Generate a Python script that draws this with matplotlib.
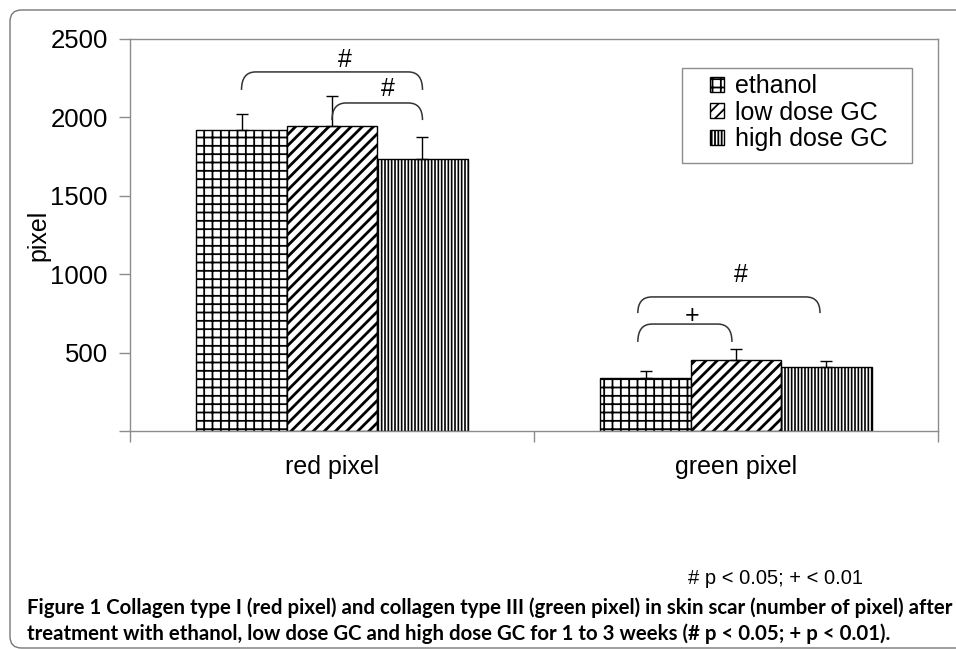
import numpy as np
import matplotlib
matplotlib.use("Agg")
import matplotlib.pyplot as plt
from matplotlib.path import Path
from matplotlib.patches import PathPatch, FancyBboxPatch, Rectangle

categories = ["red pixel", "green pixel"]
groups = ["ethanol", "low dose GC", "high dose GC"]
means = {
    "ethanol": [1920, 338],
    "low dose GC": [1945, 453],
    "high dose GC": [1735, 408],
}
errors = {
    "ethanol": [102, 45],
    "low dose GC": [192, 70],
    "high dose GC": [140, 38],
}
hatches = {"ethanol": "++", "low dose GC": "///", "high dose GC": "|||||"}
hatch_lw = {"ethanol": 1.3, "low dose GC": 2.0, "high dose GC": 1.2}

# significance brackets: x0, x1, y_end, y_top, label, label_x, label_y
brackets = [
    (0.276, 0.724, 2175, 2290, "#", 0.532, 2366),
    (0.500, 0.724, 1983, 2092, "#", 0.639, 2181),
    (1.257, 1.708, 752, 855, "#", 1.512, 995),
    (1.257, 1.490, 568, 682, "+", 1.391, 733),
]

plt.rcParams["font.family"] = ["Liberation Sans", "DejaVu Sans"]
plt.rcParams["hatch.linewidth"] = 1.3

fig = plt.figure(figsize=(9.56, 6.49), dpi=100)
ax = fig.add_axes([130 / 956, 1 - 431 / 649, 808 / 956, 392 / 649])

grey = "#8c8c8c"
width = 0.224
x = np.arange(len(categories)) + 0.5
for i, g in enumerate(groups):
    pos = x + (i - 1) * width
    with plt.rc_context({"hatch.linewidth": hatch_lw[g]}):
        ax.bar(pos, means[g], width, facecolor="white", edgecolor="black",
               linewidth=1.0, hatch=hatches[g], label=g, zorder=2)
    ax.errorbar(pos, means[g], yerr=[[0] * len(pos), errors[g]], fmt="none",
                ecolor="black", elinewidth=1.0, capsize=4, capthick=1.0, zorder=3)

for x0, x1, ye, yt, lab, lx, ly in brackets:
    rx = 0.035
    verts = [(x0, ye), (x0, yt), (x0 + rx, yt), (x1 - rx, yt), (x1, yt), (x1, ye)]
    codes = [Path.MOVETO, Path.CURVE3, Path.CURVE3, Path.LINETO, Path.CURVE3, Path.CURVE3]
    ax.add_patch(PathPatch(Path(verts, codes), facecolor="none", edgecolor="#333333",
                           linewidth=1.1, zorder=3))
    ax.text(lx, ly, lab, ha="center", va="center", fontsize=18)

ax.set_xlim(0, 2)
ax.set_ylim(0, 2500)
ax.set_yticks([0, 500, 1000, 1500, 2000, 2500])
ax.set_yticklabels(["", "500", "1000", "1500", "2000", "2500"])
ax.set_xticks([0, 1, 2])
ax.set_xticklabels([])
ax.set_xticks(x, minor=True)
ax.set_xticklabels(categories, minor=True)
ax.tick_params(axis="x", which="minor", length=0, pad=17, labelsize=18)
ax.tick_params(axis="x", which="major", length=8, color=grey, width=1)
ax.tick_params(axis="y", length=8, color=grey, width=1, labelsize=18.5, pad=8)
for s in ax.spines.values():
    s.set_color(grey)
    s.set_linewidth(1.0)
ax.set_ylabel("pixel", fontsize=18, labelpad=0)

# legend box drawn separately so the padding can match
ax.add_patch(Rectangle((0.683, 0.684), 0.2847, 0.2423, transform=ax.transAxes,
                       facecolor="white", edgecolor=grey, linewidth=1.0, zorder=4))
leg = ax.legend(loc="upper left", bbox_to_anchor=(0.718, 0.910), borderaxespad=0,
                fontsize=18, frameon=False, borderpad=0,
                handlelength=0.55, handleheight=0.55, handletextpad=0.45,
                labelspacing=0.1)
leg.set_zorder(5)

fig.text(775 / 956, 1 - 578 / 649, "# p < 0.05; + < 0.01", ha="center", va="center",
         fontsize=14.5)

cap1 = ("Figure 1 Collagen type I (red pixel) and collagen type III (green pixel) in "
        "skin scar (number of pixel) after")
cap2 = ("treatment with ethanol, low dose GC and high dose GC for 1 to 3 weeks "
        "(# p < 0.05; + p < 0.01).")
capfont = ["Lato", "DejaVu Sans"]
fs = 13
t1 = fig.text(27 / 956, 1 - 608 / 649, cap1, ha="left", va="center", fontsize=fs,
              fontweight="bold", family=capfont)
t2 = fig.text(27 / 956, 1 - 634 / 649, cap2, ha="left", va="center", fontsize=fs,
              fontweight="bold", family=capfont)
for _ in range(3):
    fig.canvas.draw()
    w = t1.get_window_extent(renderer=fig.canvas.get_renderer()).width
    fs = fs * 924 / w
    t1.set_fontsize(fs)
    t2.set_fontsize(fs)

frame = FancyBboxPatch((10 / 956, 1 / 649), 1.05, 638 / 649,
                       boxstyle="round,pad=0,rounding_size=0.012",
                       transform=fig.transFigure, facecolor="none",
                       edgecolor="#777777", linewidth=1.0, mutation_aspect=956 / 649)
fig.patches.append(frame)

fig.savefig("out.png", dpi=100)
